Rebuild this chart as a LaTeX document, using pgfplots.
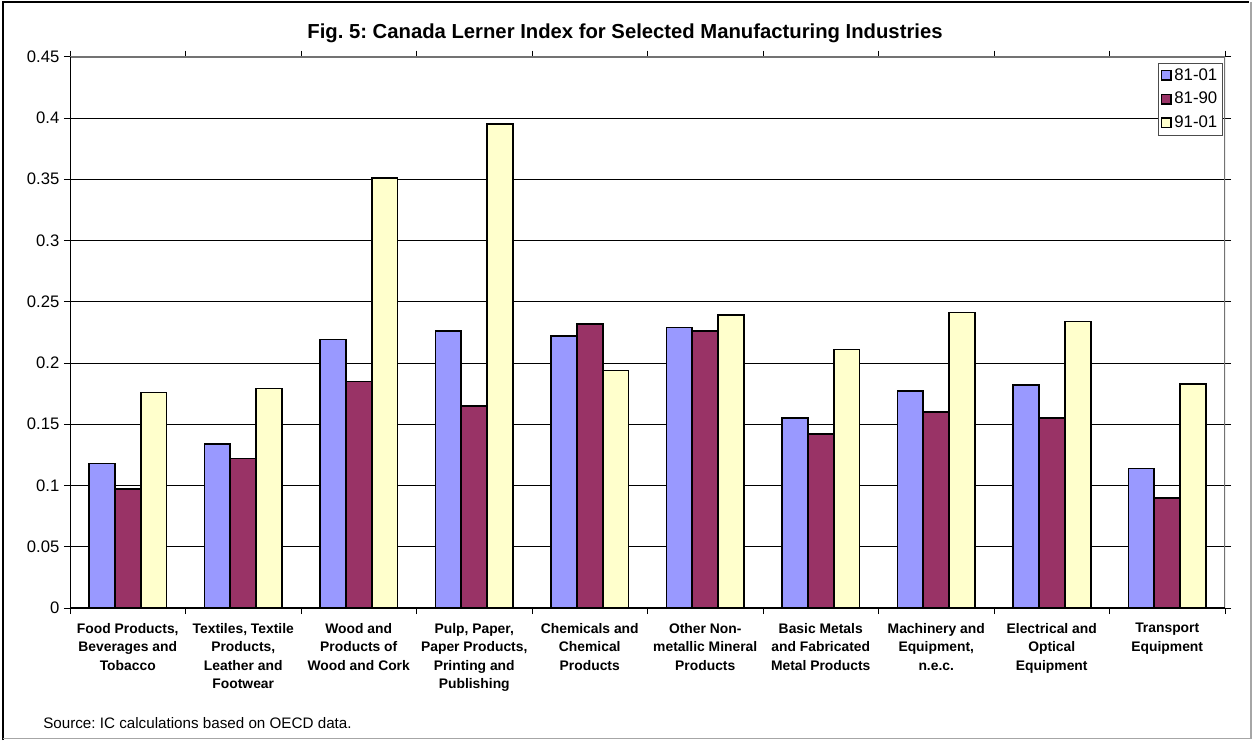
\documentclass[border=0pt]{standalone}
\usepackage{fontspec}
\setmainfont{Liberation Sans}
\usepackage{pgfplots}
\pgfplotsset{compat=1.18}
\definecolor{cA}{HTML}{9999FF}
\definecolor{cB}{HTML}{993366}
\definecolor{cC}{HTML}{FFFFCC}
\frenchspacing
\begin{document}
\frenchspacing
\begin{tikzpicture}
\useasboundingbox (0,0) rectangle (939.75pt,555pt);
\fill[white] (0,0) rectangle (939.75pt,555pt);
\draw[black, line width=2pt] (2.25pt,0) -- (2.25pt,553.5pt) -- (937pt,553.5pt);
\draw[black!35, line width=0.8pt] (938.25pt,553.5pt) -- (938.25pt,1.2pt) -- (2.25pt,1.2pt);
\begin{axis}[
  at={(52.5pt,99pt)}, anchor=south west, scale only axis,
  width=866.25pt, height=413.5pt,
  xmin=-0.5, xmax=9.5, ymin=0, ymax=0.45,
  ybar, bar width=0.225,
  ytick={0,0.05,0.1,0.15,0.2,0.25,0.3,0.35,0.4,0.45},
  yticklabels={0,0.05,0.1,0.15,0.2,0.25,0.3,0.35,0.4,0.45},
  ymajorgrids, grid style={black, line width=0.6pt},
  xtick={-0.5,0.5,1.5,2.5,3.5,4.5,5.5,6.5,7.5,8.5,9.5}, xticklabels={},
  tick align=outside, major tick length=4.5pt, tick style={black, line width=0.6pt},
  extra x ticks={0,1,2,3,4,5,6,7,8,9},
  extra x tick labels={{Food Products,\\Beverages and\\Tobacco},{Textiles, Textile\\Products,\\Leather and\\Footwear},{Wood and\\Products of\\Wood and Cork},{Pulp, Paper,\\Paper Products,\\Printing and\\Publishing},{Chemicals and\\Chemical\\Products},{Other Non-\\metallic Mineral\\Products},{Basic Metals\\and Fabricated\\Metal Products},{Machinery and\\Equipment,\\n.e.c.},{Electrical and\\Optical\\Equipment},{Transport\\Equipment}},
  extra x tick style={major tick length=0pt, grid=none},
  xticklabel style={font=\fontsize{10.4}{13.8}\selectfont\bfseries, align=center, anchor=north, yshift=-8pt},
  yticklabel style={font=\fontsize{12.5}{15}\selectfont},
  axis line style={draw=none},
  legend style={at={(rel axis cs:0.9983,0.989)}, anchor=north east, draw=black!70, line width=0.6pt,
    font=\fontsize{12.6}{15}\selectfont, row sep=3.5pt, inner sep=2pt},
  legend cell align=left,
  legend image code/.code={\draw[#1, line width=1pt] (0pt,-3.6pt) rectangle (7.2pt,3.6pt);},
]
\addplot[fill=cA, draw=black, line width=1.15pt, bar shift=-0.225] coordinates {(0,0.118) (1,0.134) (2,0.219) (3,0.226) (4,0.222) (5,0.229) (6,0.155) (7,0.177) (8,0.182) (9,0.114)};
\addplot[fill=cB, draw=black, line width=1.15pt, bar shift=0] coordinates {(0,0.097) (1,0.122) (2,0.185) (3,0.165) (4,0.232) (5,0.226) (6,0.142) (7,0.160) (8,0.155) (9,0.090)};
\addplot[fill=cC, draw=black, line width=1.15pt, bar shift=0.225] coordinates {(0,0.176) (1,0.179) (2,0.351) (3,0.395) (4,0.194) (5,0.239) (6,0.211) (7,0.241) (8,0.234) (9,0.183)};
\legend{81-01,81-90,91-01}
\draw[black!55, line width=1.4pt] (rel axis cs:0,1) -- (rel axis cs:1,1) -- (rel axis cs:1,0);
\draw[black, line width=0.8pt] (rel axis cs:0,1) -- (rel axis cs:0,0) -- (rel axis cs:1,0);
\end{axis}
\node[font=\fontsize{15.2}{18}\selectfont\bfseries] at (468.75pt,530pt) {Fig. 5: Canada Lerner Index for Selected Manufacturing Industries};
\node[font=\fontsize{11.4}{14}\selectfont, anchor=west, inner sep=0pt] at (32.25pt,12.5pt) {Source: IC calculations based on OECD data.};
\end{tikzpicture}
\end{document}
